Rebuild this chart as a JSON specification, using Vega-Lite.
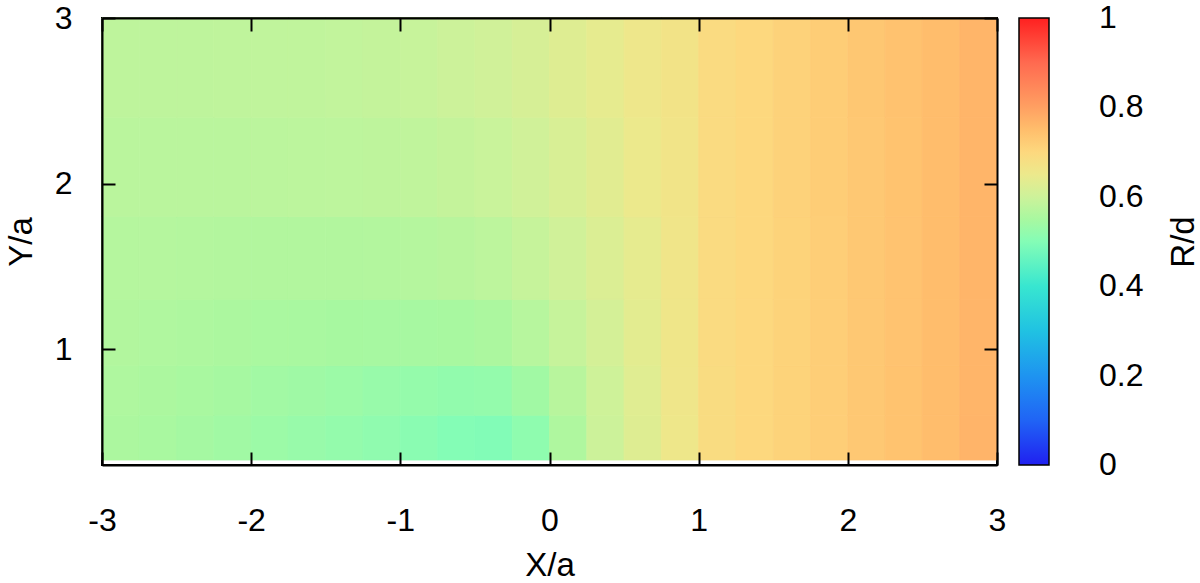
{
  "$schema": "https://vega.github.io/schema/vega-lite/v6.json",
  "width": 895,
  "height": 447,
  "autosize": {"type": "none"},
  "padding": {"left": 102, "top": 18, "right": 203, "bottom": 118},
  "background": "white",
  "config": {
    "font": "Liberation Sans",
    "view": {"stroke": "black", "strokeWidth": 2},
    "axis": {"grid": false, "domain": true, "domainColor": "black", "domainWidth": 2, "tickColor": "black", "tickWidth": 2, "tickSize": -13, "labelColor": "black", "titleColor": "black", "labelFont": "Liberation Sans", "titleFont": "Liberation Sans", "labelFontSize": 32, "titleFontSize": 33, "titleFontWeight": "normal", "labelFlush": false},
    "legend": {"labelFont": "Liberation Sans", "titleFont": "Liberation Sans"}
  },
  "data": {"values": [
{"x0":-3,"x1":-2.75,"y0":0.33,"y1":0.6,"v":0.556},{"x0":-2.75,"x1":-2.5,"y0":0.33,"y1":0.6,"v":0.552},{"x0":-2.5,"x1":-2.25,"y0":0.33,"y1":0.6,"v":0.546},{"x0":-2.25,"x1":-2,"y0":0.33,"y1":0.6,"v":0.540},{"x0":-2,"x1":-1.75,"y0":0.33,"y1":0.6,"v":0.534},{"x0":-1.75,"x1":-1.5,"y0":0.33,"y1":0.6,"v":0.528},{"x0":-1.5,"x1":-1.25,"y0":0.33,"y1":0.6,"v":0.522},{"x0":-1.25,"x1":-1,"y0":0.33,"y1":0.6,"v":0.516},{"x0":-1,"x1":-0.75,"y0":0.33,"y1":0.6,"v":0.508},{"x0":-0.75,"x1":-0.5,"y0":0.33,"y1":0.6,"v":0.500},{"x0":-0.5,"x1":-0.25,"y0":0.33,"y1":0.6,"v":0.497},{"x0":-0.25,"x1":0,"y0":0.33,"y1":0.6,"v":0.515},{"x0":0,"x1":0.25,"y0":0.33,"y1":0.6,"v":0.560},{"x0":0.25,"x1":0.5,"y0":0.33,"y1":0.6,"v":0.598},{"x0":0.5,"x1":0.75,"y0":0.33,"y1":0.6,"v":0.628},{"x0":0.75,"x1":1,"y0":0.33,"y1":0.6,"v":0.657},{"x0":1,"x1":1.25,"y0":0.33,"y1":0.6,"v":0.688},{"x0":1.25,"x1":1.5,"y0":0.33,"y1":0.6,"v":0.700},{"x0":1.5,"x1":1.75,"y0":0.33,"y1":0.6,"v":0.710},{"x0":1.75,"x1":2,"y0":0.33,"y1":0.6,"v":0.720},{"x0":2,"x1":2.25,"y0":0.33,"y1":0.6,"v":0.730},{"x0":2.25,"x1":2.5,"y0":0.33,"y1":0.6,"v":0.741},{"x0":2.5,"x1":2.75,"y0":0.33,"y1":0.6,"v":0.752},{"x0":2.75,"x1":3,"y0":0.33,"y1":0.6,"v":0.766},
{"x0":-3,"x1":-2.75,"y0":0.6,"y1":0.9,"v":0.560},{"x0":-2.75,"x1":-2.5,"y0":0.6,"y1":0.9,"v":0.556},{"x0":-2.5,"x1":-2.25,"y0":0.6,"y1":0.9,"v":0.552},{"x0":-2.25,"x1":-2,"y0":0.6,"y1":0.9,"v":0.547},{"x0":-2,"x1":-1.75,"y0":0.6,"y1":0.9,"v":0.542},{"x0":-1.75,"x1":-1.5,"y0":0.6,"y1":0.9,"v":0.538},{"x0":-1.5,"x1":-1.25,"y0":0.6,"y1":0.9,"v":0.533},{"x0":-1.25,"x1":-1,"y0":0.6,"y1":0.9,"v":0.528},{"x0":-1,"x1":-0.75,"y0":0.6,"y1":0.9,"v":0.524},{"x0":-0.75,"x1":-0.5,"y0":0.6,"y1":0.9,"v":0.520},{"x0":-0.5,"x1":-0.25,"y0":0.6,"y1":0.9,"v":0.522},{"x0":-0.25,"x1":0,"y0":0.6,"y1":0.9,"v":0.540},{"x0":0,"x1":0.25,"y0":0.6,"y1":0.9,"v":0.572},{"x0":0.25,"x1":0.5,"y0":0.6,"y1":0.9,"v":0.602},{"x0":0.5,"x1":0.75,"y0":0.6,"y1":0.9,"v":0.630},{"x0":0.75,"x1":1,"y0":0.6,"y1":0.9,"v":0.658},{"x0":1,"x1":1.25,"y0":0.6,"y1":0.9,"v":0.688},{"x0":1.25,"x1":1.5,"y0":0.6,"y1":0.9,"v":0.700},{"x0":1.5,"x1":1.75,"y0":0.6,"y1":0.9,"v":0.710},{"x0":1.75,"x1":2,"y0":0.6,"y1":0.9,"v":0.720},{"x0":2,"x1":2.25,"y0":0.6,"y1":0.9,"v":0.730},{"x0":2.25,"x1":2.5,"y0":0.6,"y1":0.9,"v":0.741},{"x0":2.5,"x1":2.75,"y0":0.6,"y1":0.9,"v":0.752},{"x0":2.75,"x1":3,"y0":0.6,"y1":0.9,"v":0.765},
{"x0":-3,"x1":-2.75,"y0":0.9,"y1":1.3,"v":0.563},{"x0":-2.75,"x1":-2.5,"y0":0.9,"y1":1.3,"v":0.561},{"x0":-2.5,"x1":-2.25,"y0":0.9,"y1":1.3,"v":0.558},{"x0":-2.25,"x1":-2,"y0":0.9,"y1":1.3,"v":0.556},{"x0":-2,"x1":-1.75,"y0":0.9,"y1":1.3,"v":0.553},{"x0":-1.75,"x1":-1.5,"y0":0.9,"y1":1.3,"v":0.551},{"x0":-1.5,"x1":-1.25,"y0":0.9,"y1":1.3,"v":0.549},{"x0":-1.25,"x1":-1,"y0":0.9,"y1":1.3,"v":0.548},{"x0":-1,"x1":-0.75,"y0":0.9,"y1":1.3,"v":0.548},{"x0":-0.75,"x1":-0.5,"y0":0.9,"y1":1.3,"v":0.550},{"x0":-0.5,"x1":-0.25,"y0":0.9,"y1":1.3,"v":0.556},{"x0":-0.25,"x1":0,"y0":0.9,"y1":1.3,"v":0.570},{"x0":0,"x1":0.25,"y0":0.9,"y1":1.3,"v":0.590},{"x0":0.25,"x1":0.5,"y0":0.9,"y1":1.3,"v":0.612},{"x0":0.5,"x1":0.75,"y0":0.9,"y1":1.3,"v":0.636},{"x0":0.75,"x1":1,"y0":0.9,"y1":1.3,"v":0.660},{"x0":1,"x1":1.25,"y0":0.9,"y1":1.3,"v":0.690},{"x0":1.25,"x1":1.5,"y0":0.9,"y1":1.3,"v":0.700},{"x0":1.5,"x1":1.75,"y0":0.9,"y1":1.3,"v":0.710},{"x0":1.75,"x1":2,"y0":0.9,"y1":1.3,"v":0.720},{"x0":2,"x1":2.25,"y0":0.9,"y1":1.3,"v":0.730},{"x0":2.25,"x1":2.5,"y0":0.9,"y1":1.3,"v":0.740},{"x0":2.5,"x1":2.75,"y0":0.9,"y1":1.3,"v":0.752},{"x0":2.75,"x1":3,"y0":0.9,"y1":1.3,"v":0.765},
{"x0":-3,"x1":-2.75,"y0":1.3,"y1":1.8,"v":0.568},{"x0":-2.75,"x1":-2.5,"y0":1.3,"y1":1.8,"v":0.567},{"x0":-2.5,"x1":-2.25,"y0":1.3,"y1":1.8,"v":0.566},{"x0":-2.25,"x1":-2,"y0":1.3,"y1":1.8,"v":0.565},{"x0":-2,"x1":-1.75,"y0":1.3,"y1":1.8,"v":0.564},{"x0":-1.75,"x1":-1.5,"y0":1.3,"y1":1.8,"v":0.564},{"x0":-1.5,"x1":-1.25,"y0":1.3,"y1":1.8,"v":0.564},{"x0":-1.25,"x1":-1,"y0":1.3,"y1":1.8,"v":0.565},{"x0":-1,"x1":-0.75,"y0":1.3,"y1":1.8,"v":0.567},{"x0":-0.75,"x1":-0.5,"y0":1.3,"y1":1.8,"v":0.571},{"x0":-0.5,"x1":-0.25,"y0":1.3,"y1":1.8,"v":0.578},{"x0":-0.25,"x1":0,"y0":1.3,"y1":1.8,"v":0.590},{"x0":0,"x1":0.25,"y0":1.3,"y1":1.8,"v":0.605},{"x0":0.25,"x1":0.5,"y0":1.3,"y1":1.8,"v":0.622},{"x0":0.5,"x1":0.75,"y0":1.3,"y1":1.8,"v":0.641},{"x0":0.75,"x1":1,"y0":1.3,"y1":1.8,"v":0.662},{"x0":1,"x1":1.25,"y0":1.3,"y1":1.8,"v":0.690},{"x0":1.25,"x1":1.5,"y0":1.3,"y1":1.8,"v":0.700},{"x0":1.5,"x1":1.75,"y0":1.3,"y1":1.8,"v":0.710},{"x0":1.75,"x1":2,"y0":1.3,"y1":1.8,"v":0.720},{"x0":2,"x1":2.25,"y0":1.3,"y1":1.8,"v":0.730},{"x0":2.25,"x1":2.5,"y0":1.3,"y1":1.8,"v":0.740},{"x0":2.5,"x1":2.75,"y0":1.3,"y1":1.8,"v":0.752},{"x0":2.75,"x1":3,"y0":1.3,"y1":1.8,"v":0.765},
{"x0":-3,"x1":-2.75,"y0":1.8,"y1":2.4,"v":0.575},{"x0":-2.75,"x1":-2.5,"y0":1.8,"y1":2.4,"v":0.575},{"x0":-2.5,"x1":-2.25,"y0":1.8,"y1":2.4,"v":0.575},{"x0":-2.25,"x1":-2,"y0":1.8,"y1":2.4,"v":0.575},{"x0":-2,"x1":-1.75,"y0":1.8,"y1":2.4,"v":0.576},{"x0":-1.75,"x1":-1.5,"y0":1.8,"y1":2.4,"v":0.577},{"x0":-1.5,"x1":-1.25,"y0":1.8,"y1":2.4,"v":0.578},{"x0":-1.25,"x1":-1,"y0":1.8,"y1":2.4,"v":0.580},{"x0":-1,"x1":-0.75,"y0":1.8,"y1":2.4,"v":0.583},{"x0":-0.75,"x1":-0.5,"y0":1.8,"y1":2.4,"v":0.588},{"x0":-0.5,"x1":-0.25,"y0":1.8,"y1":2.4,"v":0.595},{"x0":-0.25,"x1":0,"y0":1.8,"y1":2.4,"v":0.605},{"x0":0,"x1":0.25,"y0":1.8,"y1":2.4,"v":0.618},{"x0":0.25,"x1":0.5,"y0":1.8,"y1":2.4,"v":0.633},{"x0":0.5,"x1":0.75,"y0":1.8,"y1":2.4,"v":0.650},{"x0":0.75,"x1":1,"y0":1.8,"y1":2.4,"v":0.666},{"x0":1,"x1":1.25,"y0":1.8,"y1":2.4,"v":0.690},{"x0":1.25,"x1":1.5,"y0":1.8,"y1":2.4,"v":0.700},{"x0":1.5,"x1":1.75,"y0":1.8,"y1":2.4,"v":0.711},{"x0":1.75,"x1":2,"y0":1.8,"y1":2.4,"v":0.721},{"x0":2,"x1":2.25,"y0":1.8,"y1":2.4,"v":0.731},{"x0":2.25,"x1":2.5,"y0":1.8,"y1":2.4,"v":0.741},{"x0":2.5,"x1":2.75,"y0":1.8,"y1":2.4,"v":0.752},{"x0":2.75,"x1":3,"y0":1.8,"y1":2.4,"v":0.765},
{"x0":-3,"x1":-2.75,"y0":2.4,"y1":3,"v":0.580},{"x0":-2.75,"x1":-2.5,"y0":2.4,"y1":3,"v":0.580},{"x0":-2.5,"x1":-2.25,"y0":2.4,"y1":3,"v":0.580},{"x0":-2.25,"x1":-2,"y0":2.4,"y1":3,"v":0.581},{"x0":-2,"x1":-1.75,"y0":2.4,"y1":3,"v":0.582},{"x0":-1.75,"x1":-1.5,"y0":2.4,"y1":3,"v":0.583},{"x0":-1.5,"x1":-1.25,"y0":2.4,"y1":3,"v":0.585},{"x0":-1.25,"x1":-1,"y0":2.4,"y1":3,"v":0.588},{"x0":-1,"x1":-0.75,"y0":2.4,"y1":3,"v":0.592},{"x0":-0.75,"x1":-0.5,"y0":2.4,"y1":3,"v":0.598},{"x0":-0.5,"x1":-0.25,"y0":2.4,"y1":3,"v":0.605},{"x0":-0.25,"x1":0,"y0":2.4,"y1":3,"v":0.615},{"x0":0,"x1":0.25,"y0":2.4,"y1":3,"v":0.627},{"x0":0.25,"x1":0.5,"y0":2.4,"y1":3,"v":0.640},{"x0":0.5,"x1":0.75,"y0":2.4,"y1":3,"v":0.655},{"x0":0.75,"x1":1,"y0":2.4,"y1":3,"v":0.668},{"x0":1,"x1":1.25,"y0":2.4,"y1":3,"v":0.690},{"x0":1.25,"x1":1.5,"y0":2.4,"y1":3,"v":0.700},{"x0":1.5,"x1":1.75,"y0":2.4,"y1":3,"v":0.712},{"x0":1.75,"x1":2,"y0":2.4,"y1":3,"v":0.722},{"x0":2,"x1":2.25,"y0":2.4,"y1":3,"v":0.732},{"x0":2.25,"x1":2.5,"y0":2.4,"y1":3,"v":0.742},{"x0":2.5,"x1":2.75,"y0":2.4,"y1":3,"v":0.752},{"x0":2.75,"x1":3,"y0":2.4,"y1":3,"v":0.765}
  ]},
  "layer": [
    {
      "mark": {"type": "rect", "strokeWidth": 0.8, "stroke": {"expr": "scale('color', datum.v)"}},
      "encoding": {
        "x": {"field": "x0", "type": "quantitative", "scale": {"domain": [-3, 3], "nice": false, "zero": false},
              "axis": {"orient": "bottom", "zindex": 2, "title": "X/a", "values": [-3, -2, -1, 0, 1, 2, 3], "labelExpr": "'' + datum.value", "labelPadding": 53, "titlePadding": 13}},
        "x2": {"field": "x1"},
        "y": {"field": "y0", "type": "quantitative", "scale": {"domain": [0.3, 3], "nice": false, "zero": false},
              "axis": {"orient": "left", "zindex": 2, "title": "Y/a", "values": [1, 2, 3], "labelExpr": "'' + datum.value", "labelPadding": 43, "titlePadding": 16}},
        "y2": {"field": "y1"},
        "color": {"field": "v", "type": "quantitative",
          "scale": {"domain": [0, 0.1, 0.2, 0.3, 0.4, 0.5, 0.55, 0.6, 0.65, 0.7, 0.75, 0.8, 0.9, 1],
                    "range": ["#2020f0", "#2064f5", "#1e94f0", "#20c2e2", "#38e6d0", "#84fdb6", "#a8f8a0", "#cdf29a", "#ece98c", "#fdd87e", "#ffbe6c", "#ffa062", "#ff6a50", "#ff2020"],
                    "interpolate": "rgb"},
          "legend": {"type": "gradient", "title": "R/d", "values": [0, 0.2, 0.4, 0.6, 0.8, 1], "format": ".1~f", "direction": "vertical",
                     "gradientLength": 447, "gradientThickness": 30, "gradientStrokeColor": "black", "gradientStrokeWidth": 1.5,
                     "offset": 21, "padding": 0, "labelOffset": 50, "labelFontSize": 32, "labelColor": "black", "labelOverlap": false, "labelBaseline": "middle",
                     "titleOrient": "right", "titleFontSize": 33, "titleFontWeight": "normal", "titleColor": "black", "titleAnchor": "middle", "titlePadding": 25,
                     "encode": {"labels": {"update": {"baseline": {"value": "middle"}}}, "title": {"update": {"angle": {"value": 270}, "baseline": {"value": "top"}}}}}}
      }
    },
    {
      "mark": {"type": "rect", "opacity": 0},
      "encoding": {
        "x": {"field": "x0", "type": "quantitative", "axis": {"orient": "top", "zindex": 2, "title": null, "labels": false, "values": [-3, -2, -1, 0, 1, 2, 3]}},
        "x2": {"field": "x1"},
        "y": {"field": "y0", "type": "quantitative", "axis": {"orient": "right", "zindex": 2, "title": null, "labels": false, "values": [1, 2, 3]}},
        "y2": {"field": "y1"}
      }
    }
  ],
  "resolve": {"axis": {"x": "independent", "y": "independent"}}
}
